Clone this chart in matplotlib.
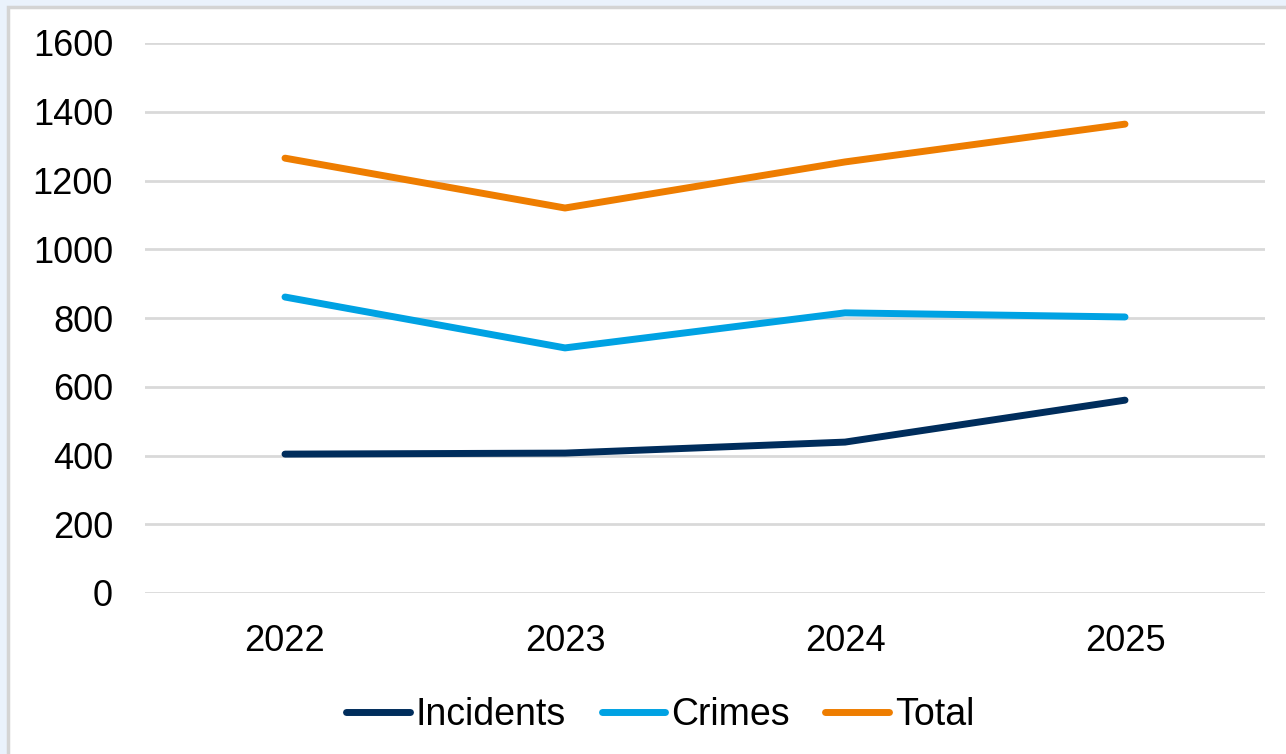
import matplotlib.pyplot as plt
from matplotlib.patches import Rectangle

plt.rcParams['font.family'] = ['Liberation Sans', 'DejaVu Sans']

# data
years = ['2022', '2023', '2024', '2025']
incidents = [404, 407, 439, 561]
crimes = [861, 713, 815, 803]
total = [1265, 1120, 1254, 1364]

fig = plt.figure(figsize=(12.86, 7.54), dpi=100)
fig.patch.set_facecolor('#EAF2FC')

# white chart area with grey border on left/top (behind the axes)
fig.patches.append(Rectangle((8 / 1286, -0.01), 1.0, 1.01 - 7 / 754, transform=fig.transFigure,
                             facecolor='white', edgecolor='#D4D4D4', linewidth=2.5, zorder=-5))

ax = fig.add_axes([145 / 1286, 1 - 593 / 754, 1120 / 1286, 550 / 754])
ax.set_facecolor('none')
ax.set_zorder(1)

x = range(len(years))
ax.plot(x, incidents, color='#002D5C', lw=5, solid_capstyle='round', label='Incidents')
ax.plot(x, crimes, color='#00A2E3', lw=5, solid_capstyle='round', label='Crimes')
ax.plot(x, total, color='#EE7D00', lw=5, solid_capstyle='round', label='Total')

ax.set_xlim(-0.5, 3.5)
ax.set_ylim(0, 1600)
ax.set_yticks(range(0, 1601, 200))
ax.set_xticks(list(x))
ax.set_xticklabels(years)
ax.grid(axis='y', color='#D9D9D9', lw=2)
ax.set_axisbelow(True)
for s in ax.spines.values():
    s.set_visible(False)
ax.tick_params(length=0, labelsize=26, colors='black')
ax.tick_params(axis='y', pad=23)
ax.tick_params(axis='x', pad=22)

ax.legend(loc='upper center', bbox_to_anchor=(0.46, -0.128), ncol=3, frameon=False,
          fontsize=27, handlelength=1.7, handletextpad=0.15, columnspacing=0.95)

fig.savefig('out.png', dpi=100, facecolor=fig.get_facecolor())
